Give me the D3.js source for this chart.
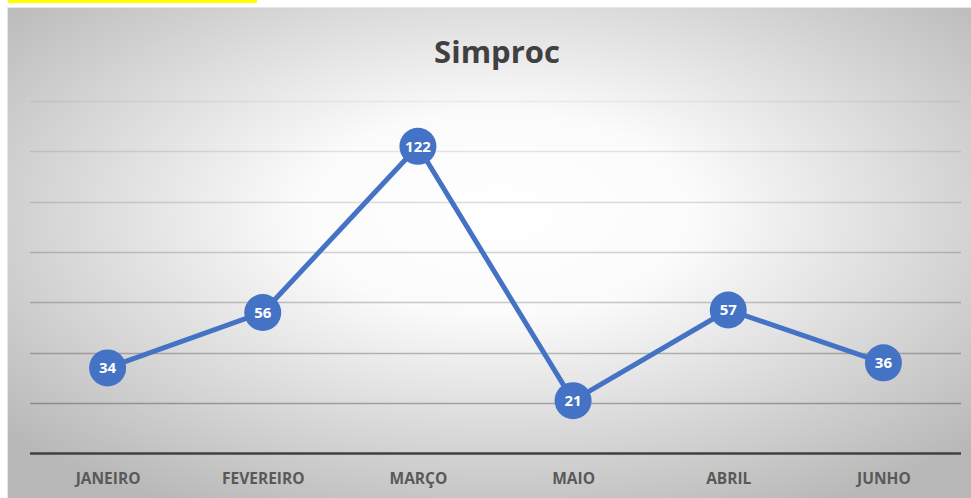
<!DOCTYPE html>
<html><head><meta charset="utf-8">
<script src="https://cdn.jsdelivr.net/npm/d3@7"></script>
<style>html,body{margin:0;padding:0;background:#fff;overflow:hidden}</style>
</head><body>
<svg id="c" width="971" height="498"></svg>
<script>
const categories = ["JANEIRO","FEVEREIRO","MARÇO","MAIO","ABRIL","JUNHO"];
const values = [34, 56, 122, 21, 57, 36];
const yTicks = [0, 20, 40, 60, 80, 100, 120, 140];
const title = "Simproc";

const W = 971, H = 498;
const svg = d3.select("#c");
const defs = svg.append("defs");
const rg = defs.append("radialGradient").attr("id","bg")
  .attr("cx","51%").attr("cy","42%").attr("r","68%").attr("fx","51%").attr("fy","42%");
rg.append("stop").attr("offset","0").attr("stop-color","#ffffff");
rg.append("stop").attr("offset","0.3").attr("stop-color","#fbfbfb");
rg.append("stop").attr("offset","1").attr("stop-color","#b8b8b8");

// yellow highlight
svg.append("rect").attr("x",8).attr("y",0).attr("width",249).attr("height",3).attr("fill","#ffff00");
// chart area
svg.append("rect").attr("x",7.5).attr("y",7.5).attr("width",W-7).attr("height",H-7)
  .attr("fill","url(#bg)").attr("stroke","#e6e6e6").attr("stroke-width",1);

const x = d3.scalePoint().domain(categories).range([30, 961]).padding(0.5);
const y = d3.scaleLinear().domain([0, 140]).range([453.5, 101]);

// gridlines
const grid = svg.append("g");
yTicks.filter(t => t > 0).forEach(t => {
  const op = 0.06 + 0.26 * (1 - t / 140);
  grid.append("line").attr("x1",30).attr("x2",961)
    .attr("y1", Math.round(y(t)) + 0.5).attr("y2", Math.round(y(t)) + 0.5)
    .attr("stroke","#000").attr("stroke-opacity", op).attr("stroke-width",1.5);
});

// axis
const xAxis = d3.axisBottom(x).tickSize(0).tickPadding(19);
const ax = svg.append("g").attr("transform",`translate(0,${y(0)})`).call(xAxis);
ax.select(".domain").attr("d","M30,0H961").attr("stroke","#404040").attr("stroke-width",2.5);
ax.selectAll("text").attr("font-family","'Open Sans', sans-serif").attr("font-weight","bold")
  .attr("font-size","15.5px").attr("fill","#595959");

// title
svg.append("text").attr("x",497).attr("y",63).attr("text-anchor","middle")
  .attr("font-family","'Open Sans', sans-serif").attr("font-weight","bold")
  .attr("font-size","31px").attr("fill","#404040").text(title);

const data = categories.map((c,i) => ({c, v: values[i]}));
const line = d3.line().x(d => x(d.c)).y(d => y(d.v));
svg.append("path").datum(data).attr("d", line).attr("fill","none")
  .attr("stroke","#4472C4").attr("stroke-width",5).attr("stroke-linejoin","round");

const pts = svg.append("g").selectAll("g").data(data).join("g")
  .attr("transform", d => `translate(${x(d.c)},${y(d.v)})`);
pts.append("circle").attr("r",18.5).attr("fill","#4472C4");
pts.append("text").attr("text-anchor","middle").attr("dy","0.36em")
  .attr("font-family","'Open Sans', sans-serif").attr("font-weight","bold")
  .attr("font-size","15px").attr("fill","#fff").text(d => d.v);
</script>
</body></html>
